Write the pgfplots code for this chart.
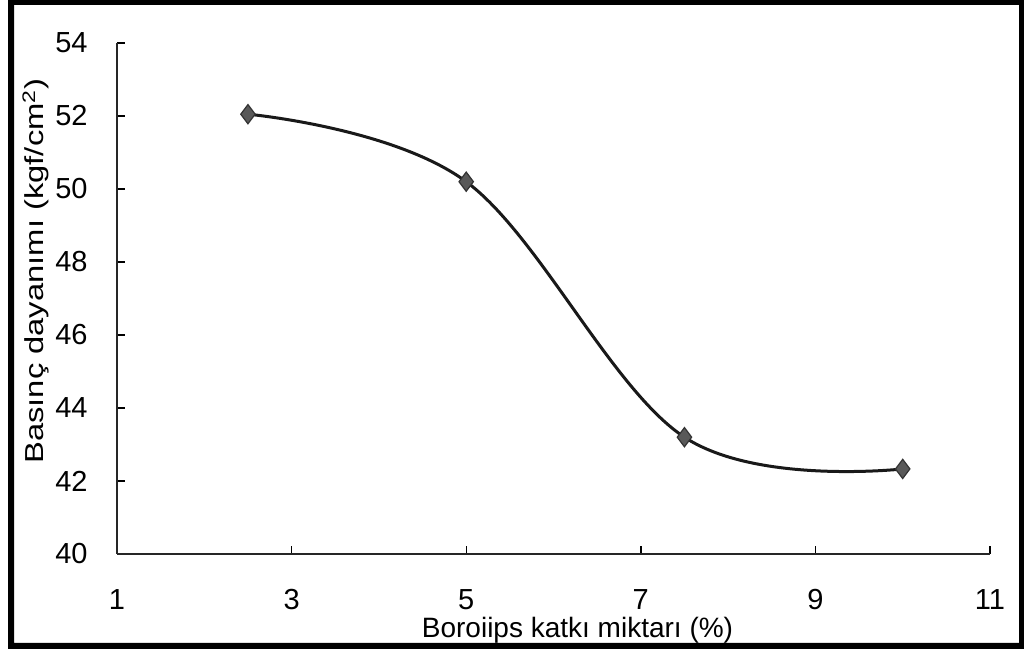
\documentclass[border=0pt]{standalone}
\usepackage{pgfplots}
\pgfplotsset{compat=1.18}
\usepackage{fontspec}
\setmainfont{Liberation Sans}

\pgfplotstableread{
x    y
2.5  52.05
5    50.2
7.5  43.2
10   42.33
}\strength

\begin{document}
\begin{tikzpicture}[x=1pt,y=1pt]
% page = 1024x653 px, 1 px = 0.5 pt
\useasboundingbox (0,0) rectangle (512,326.5);
\fill[white] (0,0) rectangle (512,326.5);

\begin{axis}[
    at={(58.5pt,49.5pt)},
    anchor=south west,
    scale only axis,
    width=436.5pt,
    height=255.5pt,
    xmin=1, xmax=11,
    ymin=40, ymax=54,
    xtick={1,3,...,11},
    ytick={40,42,...,54},
    axis lines*=left,
    axis line style={line width=1pt, black!85},
    tick align=inside,
    tick pos=left,
    major tick length=4pt,
    tick style={line width=0.7pt, black},
    /pgf/number format/assume math mode=true,
    ticklabel style={font=\fontsize{14.5}{17}\selectfont, inner sep=0pt},
    yticklabel style={anchor=east, xshift=-14.5pt},
    xticklabel style={anchor=north, yshift=-17.5pt},
    clip=false,
    xlabel={Boroiips katkı miktarı (\%)},
    xlabel style={font=\fontsize{14}{16}\selectfont, inner sep=0pt,
        at={(axis description cs:0.5275,-0.1625)}, anchor=base},
]
\addplot[
    line width=1.5pt,
    black!90,
    smooth,
    tension=0.6,
    mark=diamond*,
    mark size=4.8pt,
    mark options={fill=black!65, draw=black!80, line width=0.6pt},
] table[x=x, y=y] {\strength};
\end{axis}

% y axis title, set beside the tick labels
\node[rotate=90, inner sep=0pt, font=\fontsize{13}{15}\selectfont]
    at (18,191) {\scalebox{1.26}[1]{Basınç dayanımı (kgf/cm\textsuperscript{2})}};

% scanned page frame
\fill[black, even odd rule]
    (4,2) rectangle (512,326.5)
    (7,5) rectangle (509.5,324);
\end{tikzpicture}
\end{document}
